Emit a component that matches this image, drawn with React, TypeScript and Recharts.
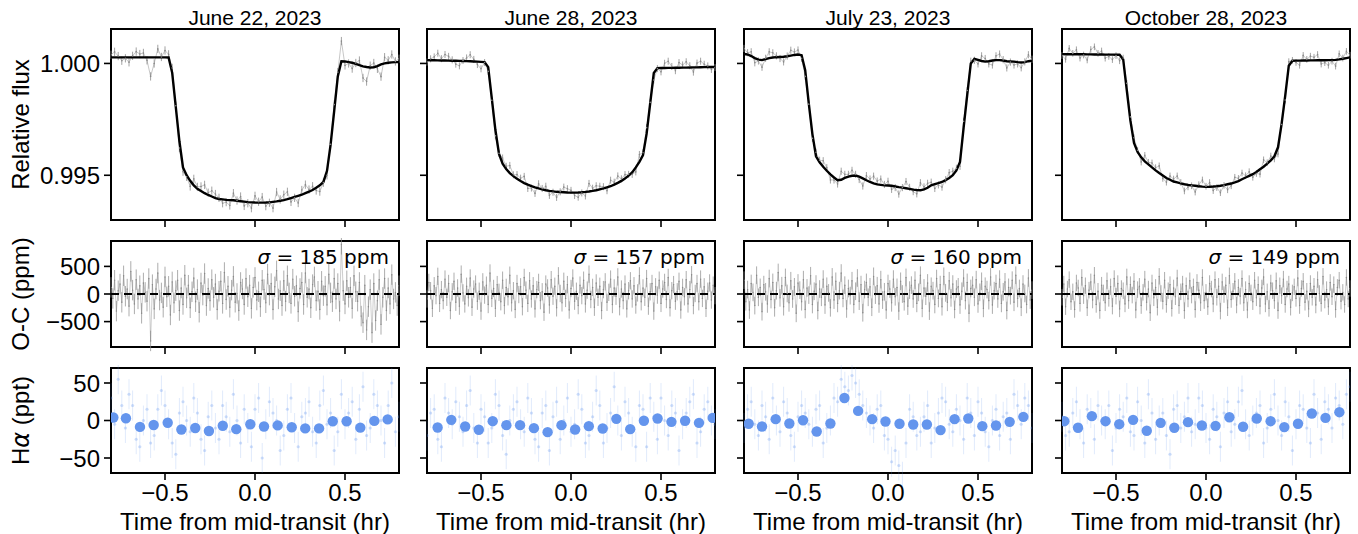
import React from "react";
import {
  ComposedChart,
  Line,
  Scatter,
  XAxis,
  YAxis,
  ErrorBar,
  ReferenceLine,
  ReferenceArea,
} from "recharts";

// ---- observations -------------------------------------------------------
const DATES = ["June 22, 2023", "June 28, 2023", "July 23, 2023", "October 28, 2023"];
const SIGMA_PPM = [185, 157, 160, 149];

const T_START = -0.8;
const RESID_STEP = 0.01; // residual cadence (161 exposures)
const MODEL_STEP = 0.02; // model sampled on every 2nd exposure (81)
const HA_STEP = 0.02; // H-alpha spectra (81)

// transit model, ppm relative to 1
const MODEL_JUN22 = [
  270, 270, 270, 270, 270, 270, 270, 270, 270, 270, 270, 270, 270, 270, 270, 270, 265,
  -420, -1950, -3480, -4650, -5000, -5250, -5450, -5600, -5700, -5800, -5880, -5950, -6020,
  -6060, -6080, -6100, -6110, -6120, -6140, -6160, -6180, -6200, -6210, -6220, -6225, -6225,
  -6220, -6210, -6190, -6170, -6140, -6110, -6070, -6020, -5970, -5920, -5870, -5800, -5730,
  -5660, -5560, -5450, -5300, -4800, -3630, -2120, -580, 100, 90, 60, 30, -20, -80, -130,
  -160, -180, -170, -120, -40, 0, 30, 50, 60, 60,
];
const MODEL_JUN28 = [
  150, 146, 142, 138, 134, 130, 126, 122, 118, 114, 110, 105, 100, 90, 80, 70, 60,
  -165, -1565, -2977, -4050, -4478, -4720, -4900, -5040, -5160, -5260, -5350, -5420, -5480,
  -5540, -5590, -5630, -5670, -5700, -5720, -5740, -5750, -5760, -5770, -5775, -5776, -5770,
  -5760, -5745, -5725, -5700, -5670, -5630, -5590, -5540, -5490, -5420, -5340, -5250, -5150,
  -5020, -4870, -4650, -4400, -4100, -3150, -1780, -430, -210, -205, -202, -200, -197, -194,
  -191, -188, -185, -182, -178, -174, -170, -166, -162, -158, -154,
];
const MODEL_JUL23 = [
  420, 400, 330, 240, 170, 150, 190, 240, 265, 280, 290, 300, 320, 350, 380, 400, 370,
  -300, -1800, -3160, -4150, -4420, -4620, -4800, -4960, -5100, -5220, -5200, -5120, -5060,
  -5020, -5010, -5060, -5140, -5224, -5300, -5360, -5410, -5430, -5450, -5460, -5470, -5500,
  -5530, -5550, -5580, -5610, -5640, -5660, -5672, -5630, -5560, -5450, -5400, -5350, -5300,
  -5220, -5120, -5000, -4780, -4400, -2880, -1420, 0, 200, 160, 110, 80, 100, 130, 150,
  150, 130, 100, 90, 80, 60, 45, 60, 100, 120,
];
const MODEL_OCT28 = [
  415, 414, 413, 412, 411, 410, 408, 406, 404, 402, 400, 398, 396, 394, 392, 390, 388,
  180, -1200, -2560, -3550, -3960, -4200, -4380, -4510, -4650, -4780, -4900, -5010, -5120,
  -5200, -5280, -5320, -5360, -5400, -5430, -5450, -5470, -5490, -5510, -5520, -5515, -5505,
  -5490, -5470, -5440, -5400, -5370, -5320, -5260, -5180, -5100, -5030, -4950, -4850, -4730,
  -4620, -4480, -4340, -4150, -3750, -2700, -1450, -100, 120, 125, 128, 130, 132, 135, 138,
  140, 143, 145, 148, 150, 160, 180, 210, 240, 270,
];

// observed minus computed, ppm
const RESID_JUN22 = [
  120, -80, 250, -310, 60, 180, -150, 330, -40, 90,
  -220, 410, 70, -180, 260, -90, 150, -350, 200, 30,
  -130, 280, -850, 170, -270, 90, 380, -110, 20, -240,
  310, -50, 140, -380, 220, -160, 60, 250, -300, 110,
  -190, 340, -70, 160, -250, 40, 290, -140, 80, -330,
  200, -20, 370, -210, 100, -120, 260, -60, 180, -280,
  50, 230, -170, 390, -100, 140, -240, 70, 320, -150,
  10, -300, 210, 90, -190, 280, -50, 160, -260, 120,
  300, -110, 40, -230, 250, 80, -160, 360, -20, 190,
  -280, 130, 420, -90, 60, -210, 240, -130, 330, 20,
  -170, 270, -40, 150, -320, 100, 210, -190, 380, -60,
  90, -250, 170, 310, -120, 50, -280, 230, -30, 140,
  -200, 360, 20, -140, 280, -90, 190, -310, 900, 60,
  -180, 240, -60, 120, -260, 330, 40, -130, 210, -400,
  -520, 160, -650, -230, 80, -700, 190, -480, -120, 260,
  -550, -60, 280, -300, 110, -180, 350, -90, 30, -210,
  150,
];
const RESID_JUN28 = [
  -90, 210, 60, -260, 150, -30, 320, -170, 80, -120,
  270, -60, 190, -300, 40, 230, -150, 110, -220, 360,
  20, -180, 140, -70, 290, -240, 90, 180, -130, 50,
  -310, 220, -20, 160, -190, 380, -80, 100, -260, 170,
  30, -140, 250, -210, 120, -50, 340, -160, 60, -280,
  190, -10, 130, -230, 300, 70, -170, 240, -90, 150,
  -270, 80, 210, -120, 40, -330, 180, 110, -200, 260,
  -40, 140, -250, 330, 10, -160, 230, -80, 170, -290,
  100, 290, -130, 50, -210, 160, -30, 250, -180, 70,
  360, -100, 120, -240, 200, -60, 140, -300, 80, 220,
  -150, 30, 270, -190, 110, -40, 310, -230, 90, -120,
  180, -270, 60, 240, -90, 150, -200, 20, 330, -140,
  110, -60, 280, -220, 40, 190, -310, 130, -20, 250,
  -170, 90, 210, -100, 300, -250, 60, 170, -130, 40,
  230, -290, 120, -50, 260, -180, 80, 350, -210, 10,
  190, -140, 270, -80, 130, -260, 50, 200, -110, 160,
  -30,
];
const RESID_JUL23 = [
  250, -140, 80, -290, 190, 30, -210, 340, -60, 120,
  -320, 170, 40, -180, 280, -100, 210, -250, 60, 390,
  -70, 150, -230, 300, 10, -160, 240, -90, 130, -350,
  200, 70, -140, 260, -280, 110, -20, 330, -190, 50,
  180, -300, 90, -60, 270, -200, 140, 20, -250, 310,
  -110, 230, -170, 60, 380, -80, 160, -270, 100, -30,
  240, -190, 50, 290, -130, 170, -340, 80, 210, -60,
  130, -240, 320, -20, 150, -180, 260, -110, 40, -290,
  190, 90, -160, 270, -50, 120, -310, 230, 0, -140,
  300, -220, 70, 160, -90, 250, -170, 30, 340, -260,
  110, -40, 200, -310, 140, 60, -190, 280, -80, 170,
  -230, 320, 20, -150, 240, -70, 180, -280, 90, 130,
  -200, 50, 290, -120, 210, -350, 100, 160, -60, 260,
  -180, 30, 230, -260, 140, 80, -120, 310, -200, 60,
  190, -90, 270, -170, 40, 220, -300, 120, -30, 250,
  -150, 340, -80, 100, -240, 180, 10, -190, 290, -110,
  70,
];
const RESID_OCT28 = [
  -60, 180, -230, 90, 260, -140, 40, -280, 200, 110,
  -170, 300, -30, 150, -250, 70, 220, -110, 340, -190,
  50, -300, 160, 20, -160, 240, -80, 130, -220, 280,
  -40, 190, -270, 100, 60, -180, 310, -120, 170, -20,
  230, -290, 80, 140, -210, 30, 270, -150, 90, -340,
  200, -70, 120, -240, 320, 10, -130, 250, -190, 60,
  170, -260, 110, -50, 290, -210, 40, 180, -300, 150,
  -90, 240, -20, 130, -280, 210, 70, -160, 300, -120,
  30, -230, 190, 90, -180, 260, -60, 140, -310, 220,
  -10, 160, -250, 330, -100, 50, 230, -200, 120, -40,
  280, -160, 80, -290, 190, 20, -140, 250, -70, 170,
  -220, 110, 310, -180, 40, -260, 200, 60, -120, 240,
  -300, 150, -30, 270, -190, 90, 180, -240, 20, 130,
  -80, 290, -210, 100, 230, -150, 50, -270, 190, -60,
  140, -200, 260, 10, -170, 320, -110, 80, -230, 210,
  -50, 170, -280, 120, 250, -130, 30, -190, 300, -90,
  100,
];

// H-alpha index per spectrum, ppt
const HA_ERR = 20;
const HA_JUN22 = [
  30, -5, 55, 20, -10, 35, 20, -25, -35, 0, 15, -30, -20, 15, 40, 20, -5, -30, -45, 10,
  25, 0, -15, 30, 10, -25, -40, 5, 20, -10, -25, 20, 5, -15, 35, 0, -30, 15, -10, -35,
  15, 30, -50, -5, 25, 10, 0, -40, -20, 15, 30, -10, -35, 5, 10, 25, -15, -30, 20, 40,
  -5, 10, -40, -15, 35, -5, 10, 25, -25, 15, 45, -20, -10, 35, 20, 0, -30, 20, 50, -15, 5,
];
const HA_JUN28 = [
  -20, 10, 15, -25, -35, 30, 10, -5, 25, 5, -15, 20, 40, -10, -30, 15, 5, -30, -10, 35,
  20, -20, -45, 0, 15, 25, -5, -15, 30, 10, -25, -35, 10, 20, -40, 5, 25, -25, 0, 30,
  -15, -5, 35, 15, -30, -20, 5, 40, 20, -30, -10, 10, 45, 0, -20, 25, 10, -15, -35, 20,
  15, -35, 30, 5, -25, 30, 0, -20, 20, 10, -40, -5, 10, 25, 35, -30, -15, 15, 25, 0, -5,
];
const HA_JUL23 = [
  -10, 15, 25, -5, -20, 20, 5, -25, 30, 0, -15, 25, 10, -20, -35, 5, 20, 10, -5, -15,
  15, 20, -30, -10, 0, 30, 25, 55, 45, 40, 60, 50, 35, 20, 10, 0, -10, 15, 20, -20,
  -25, -55, -40, -60, -75, -30, 15, 5, -20, -15, 5, 20, -30, -10, 10, 30, 25, -5, -15, 15,
  0, -25, 30, 10, -20, 25, 10, -15, -35, 0, 15, -20, 5, 10, -25, 35, 20, -5, 30, 20, -10,
];
const HA_OCT28 = [
  5, -20, -15, 10, 25, -5, -30, 15, 10, -25, 20, 0, -5, 20, -40, -10, 15, 5, 30, -15,
  -20, 25, 0, -30, 35, 10, -25, 0, 10, -20, -45, 15, 20, -10, 5, 30, -15, -5, 30, 20,
  -10, -25, 15, 5, -35, 10, 25, -15, -5, 25, 40, -5, -20, 0, 10, 20, -30, -10, 15, 35,
  0, -20, 25, 5, -40, -5, 20, 15, -10, -30, 35, 10, -25, 25, 15, -10, 30, 20, -5, 35, 45,
];

// binned H-alpha
const BIN_T_JUN22 = [-0.787, -0.717, -0.639, -0.563, -0.485, -0.409, -0.332, -0.256, -0.179, -0.104, -0.026, 0.05, 0.126, 0.204, 0.279, 0.356, 0.432, 0.509, 0.585, 0.663, 0.737];
const BIN_HA_JUN22 = [4, 3, -8.5, -6, -3, -12, -10, -14, -7, -11.5, -5, -8, -6.5, -9, -10.5, -10.5, -1, -1, -9.5, -0.5, 1.5];
const BIN_T_JUN28 = [-0.741, -0.665, -0.588, -0.512, -0.435, -0.359, -0.283, -0.206, -0.13, -0.053, 0.023, 0.099, 0.176, 0.252, 0.329, 0.405, 0.481, 0.558, 0.634, 0.711, 0.787];
const BIN_HA_JUN28 = [-9.3, 0.9, -8, -12.4, -0.9, -6.2, -6.2, -10.2, -15.5, -6.2, -12, -7.5, -10.6, 2.2, -11.5, -0.4, 2.7, -1.8, -0.4, -3.1, 3.5];
const BIN_T_JUL23 = [-0.774, -0.7, -0.624, -0.548, -0.472, -0.396, -0.32, -0.242, -0.166, -0.088, -0.014, 0.064, 0.14, 0.216, 0.292, 0.37, 0.446, 0.524, 0.6, 0.676, 0.752];
const BIN_HA_JUL23 = [-4.4, -8, 1.8, -4, 0.4, -14.6, -4, 30, 12.8, 1.8, -1.3, -4.4, -5.3, -5.3, -12.8, 1.8, 2.7, -7.5, -6.6, -1.8, 4.9];
const BIN_T_OCT28 = [-0.787, -0.711, -0.634, -0.558, -0.482, -0.405, -0.329, -0.252, -0.176, -0.1, -0.023, 0.053, 0.13, 0.206, 0.282, 0.359, 0.435, 0.511, 0.588, 0.664, 0.741];
const BIN_HA_OCT28 = [-0.9, -9.7, 5.8, -0.9, -4.9, 0.9, -13.7, -3.1, -9.7, -2.2, -6.6, -7.1, 4.4, -8.4, 2.7, -0.9, -8.8, -4.4, 9.3, 3.5, 11.1];

const X_TICKS = [-0.5, 0, 0.5];
const FLUX_TICKS = [0.995, 1.0];
const OC_TICKS = [-500, 0, 500];
const HA_TICKS = [-50, 0, 50];

// ---- layout --------------------------------------------------------------
const COL_X = [111, 427, 744, 1062];
const PLOT_W = 288;
const ROWS = [
  { top: 29, h: 191, domain: [0.993, 1.00154] },
  { top: 241, h: 106, domain: [-960, 960] },
  { top: 368, h: 105, domain: [-70, 70] },
];
const YW = 90;
const PAD = 3;
const GRAY = "#8a8a8a";
const BLUE = "#6495ED";
const minus = (s: string) => s.replace("-", "\u2212");

const MODELS = [MODEL_JUN22, MODEL_JUN28, MODEL_JUL23, MODEL_OCT28];
const RESIDS = [RESID_JUN22, RESID_JUN28, RESID_JUL23, RESID_OCT28];
const HAS = [HA_JUN22, HA_JUN28, HA_JUL23, HA_OCT28];
const BIN_TS = [BIN_T_JUN22, BIN_T_JUN28, BIN_T_JUL23, BIN_T_OCT28];
const BIN_HAS = [BIN_HA_JUN22, BIN_HA_JUN28, BIN_HA_JUL23, BIN_HA_OCT28];

const dot = (r: number, fill: string, opacity = 1) => (p: any) =>
  <circle cx={p.cx} cy={p.cy} r={r} fill={fill} fillOpacity={opacity} />;

function Panel({ col, row, ticks, fmt, children }: any) {
  const { top, h, domain } = ROWS[row];
  const showX = row === 2;
  const xh = showX ? 40 : 10;
  const axisTick = { fontSize: 24, fill: "#000" };
  const tickLine = { stroke: "#000", strokeWidth: 1.6 };
  return (
    <div style={{ position: "absolute", left: COL_X[col] - YW, top: top - PAD }}>
      <ComposedChart
        width={YW + PLOT_W + PAD}
        height={PAD + h + xh}
        margin={{ top: PAD, right: PAD, bottom: 0, left: 0 }}
      >
        <XAxis
          type="number"
          dataKey="t"
          domain={[-0.8, 0.8]}
          ticks={X_TICKS}
          interval={0}
          allowDataOverflow
          height={xh}
          axisLine={false}
          tickLine={tickLine}
          tickSize={7}
          tickMargin={4}
          tick={axisTick}
          tickFormatter={(v: number) => (showX ? minus(v.toFixed(1)) : "")}
        />
        <YAxis
          type="number"
          dataKey="y"
          domain={domain}
          ticks={ticks}
          interval={0}
          allowDataOverflow
          width={YW}
          axisLine={false}
          tickLine={tickLine}
          tickSize={7}
          tickMargin={4}
          tick={axisTick}
          tickFormatter={(v: number) => (col === 0 ? minus(fmt(v)) : "")}
        />
        {children}
        <ReferenceArea
          x1={-0.8}
          x2={0.8}
          y1={domain[0]}
          y2={domain[1]}
          fill="none"
          stroke="#000"
          strokeWidth={2}
        />
      </ComposedChart>
    </div>
  );
}

export default function App() {
  const centers = COL_X.map((x) => x + PLOT_W / 2);
  return (
    <div
      style={{
        position: "absolute",
        left: 0,
        top: 0,
        width: 1358,
        height: 534,
        background: "#fff",
        fontFamily: "'Liberation Sans', Arial, sans-serif",
      }}
    >
      {DATES.map((date, c) => {
        const model = MODELS[c].map((m, i) => ({ t: T_START + i * MODEL_STEP, y: 1 + m / 1e6 }));
        const flux = MODELS[c].map((m, i) => ({
          t: T_START + i * MODEL_STEP,
          y: 1 + (m + RESIDS[c][2 * i]) / 1e6,
          err: SIGMA_PPM[c] / 1e6,
        }));
        const resid = RESIDS[c].map((r, i) => ({ t: T_START + i * RESID_STEP, y: r, err: SIGMA_PPM[c] }));
        const ha = HAS[c].map((v, i) => ({ t: T_START + i * HA_STEP, y: v, err: HA_ERR }));
        const bins = BIN_TS[c].map((t, i) => ({ t, y: BIN_HAS[c][i] }));
        return (
          <React.Fragment key={date}>
            <Panel col={c} row={0} ticks={FLUX_TICKS} fmt={(v: number) => v.toFixed(3)}>
              <Line data={flux} dataKey="y" stroke={GRAY} strokeWidth={0.6} strokeOpacity={0.8} dot={false} isAnimationActive={false} />
              <Scatter data={flux} shape={dot(0.8, GRAY)} isAnimationActive={false}>
                <ErrorBar dataKey="err" direction="y" width={0} stroke={GRAY} strokeWidth={0.8} />
              </Scatter>
              <Line data={model} dataKey="y" stroke="#000" strokeWidth={2.4} dot={false} isAnimationActive={false} />
            </Panel>
            <Panel col={c} row={1} ticks={OC_TICKS} fmt={(v: number) => String(v)}>
              <Line data={resid} dataKey="y" stroke={GRAY} strokeWidth={0.6} strokeOpacity={0.7} dot={false} isAnimationActive={false} />
              <Scatter data={resid} shape={dot(0.7, GRAY)} isAnimationActive={false}>
                <ErrorBar dataKey="err" direction="y" width={0} stroke={GRAY} strokeWidth={0.7} />
              </Scatter>
              <ReferenceLine y={0} stroke="#000" strokeWidth={2} strokeDasharray="8 5" />
            </Panel>
            <Panel col={c} row={2} ticks={HA_TICKS} fmt={(v: number) => String(v)}>
              <Scatter data={ha} shape={dot(1.6, BLUE, 0.3)} isAnimationActive={false}>
                <ErrorBar dataKey="err" direction="y" width={0} stroke={BLUE} strokeOpacity={0.2} strokeWidth={1} />
              </Scatter>
              <Scatter data={bins} shape={dot(5.2, BLUE)} isAnimationActive={false} />
            </Panel>
          </React.Fragment>
        );
      })}
      <svg
        width={1358}
        height={534}
        style={{ position: "absolute", left: 0, top: 0, pointerEvents: "none" }}
      >
        {DATES.map((d, c) => (
          <text key={d} x={centers[c]} y={25} fontSize={21} textAnchor="middle" fill="#000">
            {d}
          </text>
        ))}
        {centers.map((x, c) => (
          <text key={c} x={x} y={530} fontSize={24} textAnchor="middle" fill="#000">
            Time from mid-transit (hr)
          </text>
        ))}
        {SIGMA_PPM.map((s, c) => (
          <text
            key={s}
            x={COL_X[c] + PLOT_W - 10}
            y={264}
            fontSize={20}
            textAnchor="end"
            fill="#000"
            fontFamily="'DejaVu Sans', sans-serif"
          >
            <tspan fontStyle="italic">σ</tspan> = {s} ppm
          </text>
        ))}
        <text transform="translate(29,124.5) rotate(-90)" fontSize={24} textAnchor="middle" fill="#000">
          Relative flux
        </text>
        <text transform="translate(29,294) rotate(-90)" fontSize={24} textAnchor="middle" fill="#000">
          O-C (ppm)
        </text>
        <text transform="translate(29,420.5) rotate(-90)" fontSize={24} textAnchor="middle" fill="#000">
          H<tspan fontFamily="'DejaVu Sans', sans-serif" fontStyle="italic">α</tspan> (ppt)
        </text>
      </svg>
    </div>
  );
}
